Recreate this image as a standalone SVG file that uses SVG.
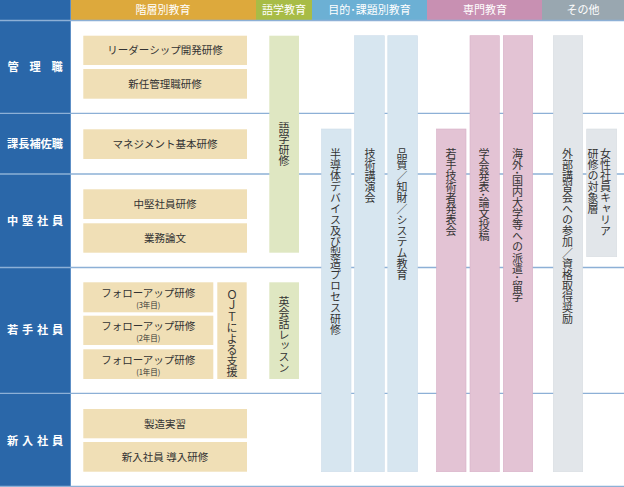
<svg xmlns="http://www.w3.org/2000/svg" width="624" height="487" viewBox="0 0 624 487">
<style>
text{font-family:"Noto Sans CJK JP","Noto Sans",sans-serif;}
.hd{fill:#fff;font-size:11px;text-anchor:middle;}
.lb{fill:#fff;font-size:11.2px;font-weight:bold;text-anchor:middle;}
.bx{fill:#f0dfb6;}
.bt{fill:#333;font-size:10.5px;text-anchor:middle;}
.sm{fill:#333;font-size:7.5px;text-anchor:middle;}
.vt{fill:#333;font-size:11px;writing-mode:vertical-rl;}
.gr{fill:#dfe7c2;}
.bl{fill:#d7e6f0;stroke:#cddde9;stroke-width:0.6;}
.pk{fill:#e3c3d4;stroke:#d8afc6;stroke-width:0.6;}
.gy{fill:#e2e6ea;stroke:#d8dde2;stroke-width:0.6;}
.sep{stroke:#8db0d6;stroke-width:1.3;}
</style>
<rect width="624" height="487" fill="#fff"/>
<g id="header">
<rect x="0" y="0" width="70.5" height="20" fill="#2a67a9"/>
<rect x="71" y="0" width="185" height="20" fill="#dda93c"/>
<rect x="256" y="0" width="56" height="20" fill="#a8bc46"/>
<rect x="312" y="0" width="115" height="20" fill="#6cb0d4"/>
<rect x="427" y="0" width="115" height="20" fill="#c890b2"/>
<rect x="542" y="0" width="82" height="20" fill="#99a7b0"/>
<text class="hd" x="163" y="14.3">階層別教育</text>
<text class="hd" x="284" y="14.3">語学教育</text>
<text class="hd" x="369.5" y="14.3">目的･課題別教育</text>
<text class="hd" x="485" y="14.3">専門教育</text>
<text class="hd" x="583" y="14.3">その他</text>
</g>
<g id="left-column">
<rect x="0" y="20" width="70" height="467" fill="#2a67a9"/>
<line x1="70.5" y1="0" x2="70.5" y2="487" stroke="#5d8fc6" stroke-width="1"/>
</g>
<g id="grid">
<line class="sep" x1="0" y1="20.5" x2="624" y2="20.5" stroke="#a9c3e0"/>
<line class="sep" x1="0" y1="113.3" x2="624" y2="113.3"/>
<line class="sep" x1="0" y1="174" x2="624" y2="174"/>
<line class="sep" x1="0" y1="267.5" x2="624" y2="267.5"/>
<line class="sep" x1="0" y1="393.3" x2="624" y2="393.3"/>
<line class="sep" x1="0" y1="486.5" x2="624" y2="486.5"/>
</g>
<g id="row-labels">
<text class="lb" x="13 35 57" y="70.5">管理職</text>
<text class="lb" x="35" y="147.5">課長補佐職</text>
<text class="lb" x="12.5 27.5 42.5 57.5" y="224.5">中堅社員</text>
<text class="lb" x="12.5 27.5 42.5 57.5" y="334">若手社員</text>
<text class="lb" x="12.5 27.5 42.5 57.5" y="444.5">新入社員</text>
</g>
<g id="bars">
<g id="bar-gogaku"><rect class="gr" x="269.3" y="35.7" width="29.7" height="217"/><text class="vt" x="284" y="122">語学研修</text></g>
<g id="bar-eikaiwa"><rect class="gr" x="269.3" y="282.3" width="29.7" height="96.7"/><text class="vt" x="284" y="296">英会話レッスン</text></g>
<g id="bar-handotai"><rect class="bl" x="321.5" y="129" width="29.5" height="342.7"/><text class="vt" x="335.5" y="148">半導体デバイス及び製造プロセス研修</text></g>
<g id="bar-gijutsu"><rect class="bl" x="354.5" y="35.7" width="29.8" height="436"/><text class="vt" x="370" y="148">技術講演会</text></g>
<g id="bar-hinshitsu"><rect class="bl" x="387.8" y="35.7" width="29.8" height="436"/><text class="vt" x="402" y="148">品質／知財／システム教育</text></g>
<g id="bar-wakate"><rect class="pk" x="436.5" y="129" width="29.5" height="342.7"/><text class="vt" x="451" y="148">若手技術者発表会</text></g>
<g id="bar-gakkai"><rect class="pk" x="470" y="35.7" width="29.3" height="436"/><text class="vt" x="484" y="148">学会発表･論文投稿</text></g>
<g id="bar-kaigai"><rect class="pk" x="503.3" y="35.7" width="29.4" height="436"/><text class="vt" x="517.5" y="148">海外･国内大学等への派遣･留学</text></g>
<g id="bar-gaibu"><rect class="gy" x="553.3" y="35.7" width="29.4" height="436"/><text class="vt" x="567.5" y="148">外部講習会への参加／資格取得奨励</text></g>
<g id="bar-josei"><rect class="gy" x="586.7" y="129" width="30" height="127.7"/><text class="vt" x="605.5" y="148">女性社員キャリア</text><text class="vt" x="593" y="148">研修の対象層</text></g>
</g>
<g id="boxes">
<g id="box-leader"><rect class="bx" x="83.3" y="35.7" width="163.7" height="29.3"/><text class="bt" x="165" y="54.3">リーダーシップ開発研修</text></g>
<g id="box-shinnin"><rect class="bx" x="83.3" y="69" width="163.7" height="29.7"/><text class="bt" x="165" y="87.8">新任管理職研修</text></g>
<g id="box-management"><rect class="bx" x="83.3" y="129.3" width="163.7" height="29.7"/><text class="bt" x="165" y="147.8">マネジメント基本研修</text></g>
<g id="box-chuken"><rect class="bx" x="83.3" y="189.3" width="163.7" height="29.7"/><text class="bt" x="165" y="207.8">中堅社員研修</text></g>
<g id="box-gyomu"><rect class="bx" x="83.3" y="223.3" width="163.7" height="29.4"/><text class="bt" x="165" y="241.8">業務論文</text></g>
<g id="box-fu3"><rect class="bx" x="83.3" y="282.3" width="130" height="30"/><text class="bt" x="148.3" y="296.5">フォローアップ研修</text><text class="sm" x="148.3" y="307.5">(3年目)</text></g>
<g id="box-fu2"><rect class="bx" x="83.3" y="315.7" width="130" height="29.3"/><text class="bt" x="148.3" y="329.5">フォローアップ研修</text><text class="sm" x="148.3" y="340.5">(2年目)</text></g>
<g id="box-fu1"><rect class="bx" x="83.3" y="349.3" width="130" height="29.7"/><text class="bt" x="148.3" y="363.5">フォローアップ研修</text><text class="sm" x="148.3" y="374.5">(1年目)</text></g>
<g id="box-ojt"><rect class="bx" x="217.3" y="282.3" width="29.4" height="96.7"/><text class="vt" x="232" y="289">ＯＪＴによる支援</text></g>
<g id="box-seizo"><rect class="bx" x="83.3" y="409" width="163.7" height="29.3"/><text class="bt" x="165" y="427.5">製造実習</text></g>
<g id="box-donyu"><rect class="bx" x="83.3" y="442" width="163.7" height="29.7"/><text class="bt" x="165" y="460.8">新入社員 導入研修</text></g>
</g>
</svg>
